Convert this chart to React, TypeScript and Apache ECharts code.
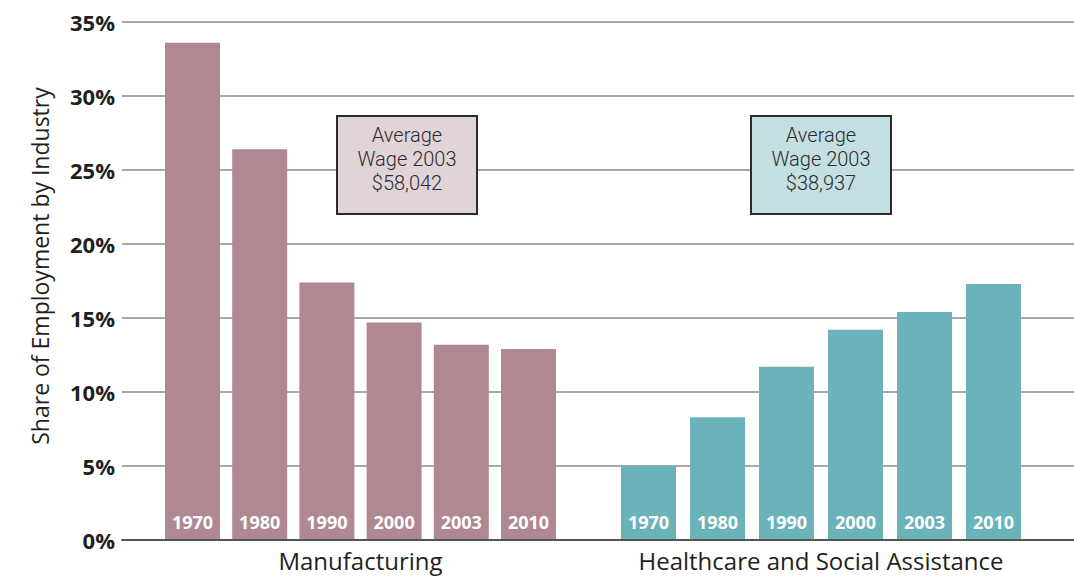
import React, { useEffect, useRef } from "react";
import * as echarts from "echarts";

const years = ["1970", "1980", "1990", "2000", "2003", "2010"];
const manufacturing = [33.6, 26.4, 17.4, 14.7, 13.2, 12.9];
const healthcare = [5.0, 8.3, 11.7, 14.2, 15.4, 17.3];
const groupNames = ["Manufacturing", "Healthcare and Social Assistance"];
const wageNotes = ["Average\nWage 2003\n$58,042", "Average\nWage 2003\n$38,937"];
const yAxisTitle = "Share of Employment by Industry";

const FONT = "'Open Sans', 'Noto Sans', sans-serif";
const NOTE_FONT = "Roboto, 'Open Sans', sans-serif";
const MAUVE = "#af8891";
const TEAL = "#6bb3ba";

export default function App() {
  const ref = useRef<HTMLDivElement>(null);
  useEffect(() => {
    document.body.style.margin = "0";
    const chart = echarts.init(ref.current!, null, { renderer: "svg" });
    const barSeries = (data: number[], idx: number, color: string) => ({
      type: "bar",
      xAxisIndex: idx,
      yAxisIndex: idx,
      data,
      barWidth: 55,
      itemStyle: { color },
      label: {
        show: true,
        position: "insideBottom",
        distance: 9,
        formatter: "{b}",
        color: "#ffffff",
        fontWeight: "bold",
        fontSize: 18,
        fontFamily: FONT,
      },
    });
    const hiddenY = (idx: number) => ({
      type: "value",
      gridIndex: idx,
      min: 0,
      max: 35,
      interval: 5,
      show: false,
    });
    const groupX = (idx: number, name: string) => ({
      type: "category",
      gridIndex: idx,
      data: years,
      axisLine: { show: false },
      axisTick: { show: false },
      axisLabel: { show: false },
      name,
      nameLocation: "middle",
      nameGap: 8,
      nameTextStyle: { fontSize: 24, color: "#231f20", fontFamily: FONT, verticalAlign: "top" },
    });
    const note = (text: string, cx: number) => ({
      type: "text",
      z: 11,
      x: cx,
      y: 159,
      style: {
        text,
        fontSize: 20,
        lineHeight: 24,
        fontFamily: NOTE_FONT,
        fontWeight: 300,
        fill: "#2b2b2b",
        textAlign: "center",
        textVerticalAlign: "middle",
      },
    });
    chart.setOption({
      animation: false,
      grid: [
        { left: 122, right: 0, top: 22, bottom: 37 },
        { left: 158.9, width: 403.2, top: 22, bottom: 37 },
        { left: 614, width: 414, top: 22, bottom: 37 },
      ],
      xAxis: [
        {
          type: "category",
          gridIndex: 0,
          data: [""],
          z: 5,
          axisLine: { show: true, lineStyle: { color: "#555555", width: 2 } },
          axisTick: { show: false },
          axisLabel: { show: false },
        },
        groupX(1, groupNames[0]),
        groupX(2, groupNames[1]),
      ],
      yAxis: [
        {
          type: "value",
          gridIndex: 0,
          min: 0,
          max: 35,
          interval: 5,
          axisLine: { show: false },
          axisTick: { show: false },
          axisLabel: {
            formatter: "{value}%",
            fontSize: 22,
            fontWeight: "bold",
            color: "#231f20",
            fontFamily: FONT,
            margin: 7,
          },
          splitLine: { show: true, lineStyle: { color: "#a8a8a8", width: 2 } },
        },
        hiddenY(1),
        hiddenY(2),
      ],
      series: [barSeries(manufacturing, 1, MAUVE), barSeries(healthcare, 2, TEAL)],
      graphic: [
        {
          type: "text",
          x: 40,
          y: 266,
          rotation: Math.PI / 2,
          style: {
            text: yAxisTitle,
            fontSize: 23,
            fontFamily: FONT,
            fill: "#231f20",
            textAlign: "center",
            textVerticalAlign: "middle",
          },
        },
        {
          type: "rect",
          z: 10,
          shape: { x: 337, y: 116, width: 140, height: 98 },
          style: { fill: "#e0d4d8", stroke: "#2b2b2b", lineWidth: 2 },
        },
        note(wageNotes[0], 407),
        {
          type: "rect",
          z: 10,
          shape: { x: 751, y: 116, width: 140, height: 98 },
          style: { fill: "#c3dfe2", stroke: "#2b2b2b", lineWidth: 2 },
        },
        note(wageNotes[1], 821),
      ],
    });
    return () => chart.dispose();
  }, []);
  return <div ref={ref} style={{ width: 1074, height: 577 }} />;
}
